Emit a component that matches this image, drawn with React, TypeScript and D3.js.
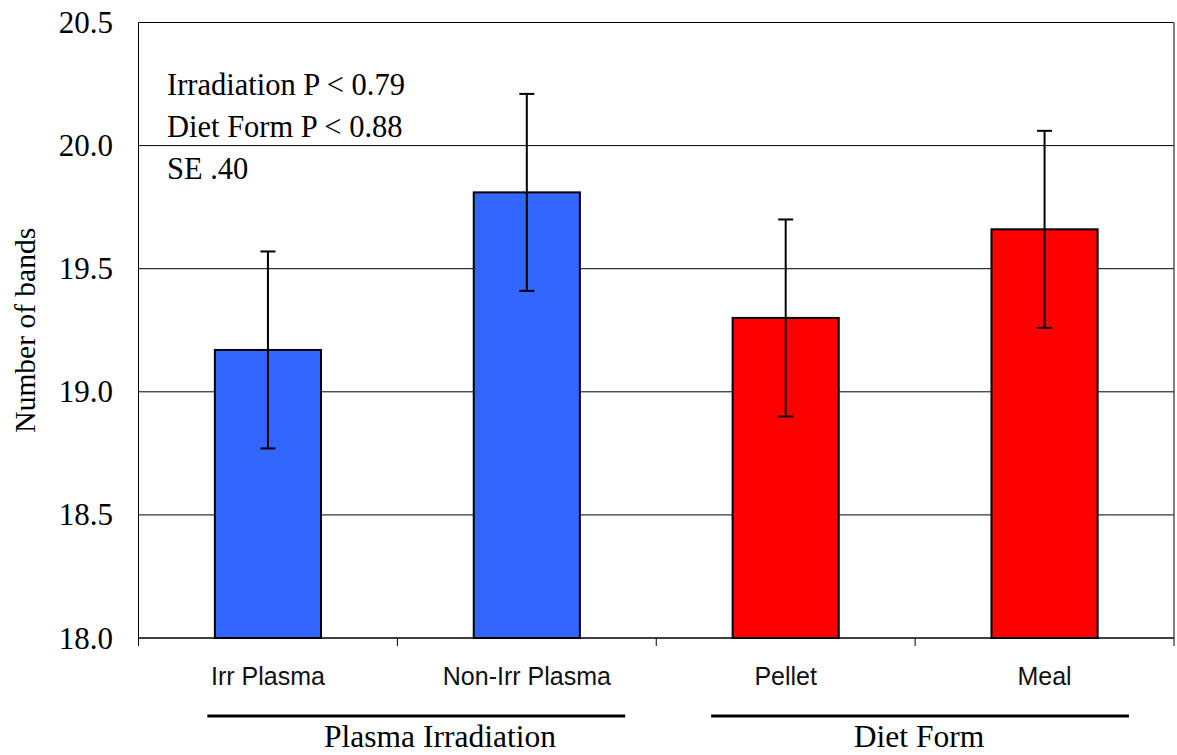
import React from "react";
import * as d3 from "d3";

// Mean number of bands by treatment, with standard error
const categories = ["Irr Plasma", "Non-Irr Plasma", "Pellet", "Meal"];
const means = [19.17, 19.81, 19.3, 19.66];
const errors = [0.4, 0.4, 0.4, 0.4];
const barColors = ["#3366FF", "#3366FF", "#FF0000", "#FF0000"];
const yTicks = [18.0, 18.5, 19.0, 19.5, 20.0, 20.5];
const groups = ["Plasma Irradiation", "Diet Form"];
const notes = ["Irradiation P < 0.79", "Diet Form P < 0.88", "SE .40"];

const W = 1177;
const H = 755;
const plot = { left: 138.5, right: 1174, top: 22.5, bottom: 638 };
const serif = "'Liberation Serif', 'Times New Roman', serif";
const sans = "'Liberation Sans', Arial, sans-serif";

export default function App() {
  const x = d3
    .scaleBand<string>()
    .domain(categories)
    .range([plot.left, plot.right])
    .padding(0);
  const y = d3.scaleLinear().domain([18, 20.5]).range([plot.bottom, plot.top]);
  const barW = x.bandwidth() * 0.41;
  const capW = 15;
  const bw = x.bandwidth();

  // group underline spans, relative to the bands they cover
  const groupLines = [
    { x1: (x(categories[0]) as number) + bw * 0.266, x2: (x(categories[1]) as number) + bw * 0.88, label: 440 },
    { x1: (x(categories[2]) as number) + bw * 0.212, x2: (x(categories[3]) as number) + bw * 0.826, label: 919 },
  ];

  const boundaries = [...categories.map((c) => x(c) as number), plot.right];

  return (
    <svg
      width={W}
      height={H}
      style={{ position: "absolute", left: 0, top: 0, background: "#fff" }}
    >
      {/* gridlines */}
      {yTicks.map((t) => (
        <line
          key={"g" + t}
          x1={plot.left}
          x2={plot.right}
          y1={y(t)}
          y2={y(t)}
          stroke="#000"
          strokeWidth={1}
        />
      ))}
      {/* right border */}
      <line x1={plot.right} x2={plot.right} y1={plot.top} y2={plot.bottom} stroke="#555" strokeWidth={1.5} />
      {/* y axis */}
      <line x1={plot.left} x2={plot.left} y1={plot.top} y2={plot.bottom} stroke="#000" strokeWidth={1} />
      {yTicks.map((t) => (
        <text
          key={"t" + t}
          x={113}
          y={y(t) + 10.5}
          textAnchor="end"
          fontFamily={serif}
          fontSize={31}
          fill="#000"
        >
          {t.toFixed(1)}
        </text>
      ))}
      <text
        transform={`translate(35, ${(plot.top + plot.bottom) / 2}) rotate(-90)`}
        textAnchor="middle"
        fontFamily={serif}
        fontSize={29.5}
        fill="#000"
      >
        Number of bands
      </text>

      {/* bars */}
      {categories.map((c, i) => {
        const cx = (x(c) as number) + bw / 2;
        return (
          <rect
            key={"b" + c}
            x={cx - barW / 2}
            y={y(means[i])}
            width={barW}
            height={y(18) - y(means[i])}
            fill={barColors[i]}
            stroke="#000"
            strokeWidth={2}
          />
        );
      })}

      {/* x axis */}
      <line x1={plot.left} x2={plot.right} y1={plot.bottom} y2={plot.bottom} stroke="#000" strokeWidth={1} />
      {boundaries.map((b, i) => (
        <line key={"xt" + i} x1={b} x2={b} y1={plot.bottom} y2={plot.bottom + 8} stroke="#000" strokeWidth={1} />
      ))}

      {/* error bars */}
      {categories.map((c, i) => {
        const cx = (x(c) as number) + bw / 2;
        const hi = y(means[i] + errors[i]);
        const lo = y(means[i] - errors[i]);
        return (
          <g key={"e" + c} stroke="#000" strokeWidth={2}>
            <line x1={cx} x2={cx} y1={hi} y2={lo} />
            <line x1={cx - capW / 2} x2={cx + capW / 2} y1={hi} y2={hi} />
            <line x1={cx - capW / 2} x2={cx + capW / 2} y1={lo} y2={lo} />
          </g>
        );
      })}

      {/* category labels */}
      {categories.map((c) => (
        <text
          key={"c" + c}
          x={(x(c) as number) + bw / 2}
          y={685}
          textAnchor="middle"
          fontFamily={sans}
          fontSize={25}
          fill="#111"
        >
          {c}
        </text>
      ))}

      {/* group brackets */}
      {groupLines.map((g, i) => (
        <g key={"grp" + i}>
          <line x1={g.x1} x2={g.x2} y1={716} y2={716} stroke="#000" strokeWidth={3} />
          <text x={g.label} y={747} textAnchor="middle" fontFamily={serif} fontSize={31.5} fill="#000">
            {groups[i]}
          </text>
        </g>
      ))}

      {/* statistics notes */}
      {notes.map((n, i) => (
        <text key={"n" + i} x={167} y={95 + i * 42} fontFamily={serif} fontSize={30.5} fill="#000">
          {n}
        </text>
      ))}
    </svg>
  );
}
